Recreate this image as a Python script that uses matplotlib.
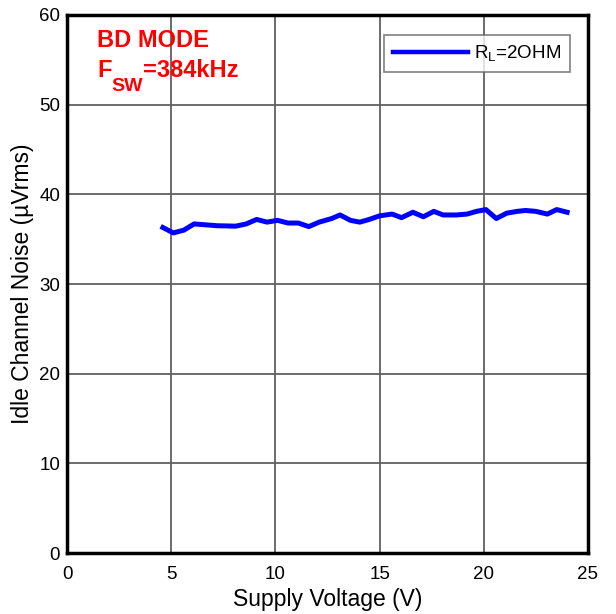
import matplotlib
matplotlib.use("Agg")
import matplotlib.pyplot as plt

plt.rcParams['font.family'] = ['Liberation Sans', 'DejaVu Sans']

# supply voltage (V) and idle channel noise (uVrms)
voltage = [4.6, 5.1, 5.6, 6.1, 7.2, 8.1, 8.6, 9.1, 9.6, 10.1, 10.6, 11.1,
           11.6, 12.1, 12.7, 13.1, 13.6, 14.05, 14.5, 15.0, 15.6, 16.05,
           16.6, 17.1, 17.6, 18.05, 18.7, 19.2, 19.65, 20.1, 20.6, 21.1,
           21.6, 22.0, 22.5, 23.05, 23.5, 24.0]
noise = [36.3, 35.7, 36.0, 36.7, 36.5, 36.45, 36.7, 37.2, 36.9, 37.1,
         36.8, 36.8, 36.4, 36.9, 37.3, 37.7, 37.1, 36.9, 37.2, 37.6, 37.8,
         37.4, 38.0, 37.5, 38.1, 37.7, 37.7, 37.8, 38.1, 38.3, 37.3, 37.9,
         38.1, 38.2, 38.1, 37.8, 38.3, 38.0]

xticks = [0, 5, 10, 15, 20, 25]
yticks = [0, 10, 20, 30, 40, 50, 60]

fig = plt.figure(figsize=(6.16, 6.14), dpi=100)
ax = fig.add_axes([0.1088, 0.0993, 0.8457, 0.8763])

ax.plot(voltage, noise, color='#0000ff', lw=3.6, label=r'R$_\mathregular{L}$=2OHM',
        solid_joinstyle='round')

ax.set_xlim(0, 25)
ax.set_ylim(0, 60)
ax.set_xticks(xticks)
ax.set_yticks(yticks)
ax.grid(True, color='#606060', lw=1.3)
ax.set_axisbelow(True)
for s in ax.spines.values():
    s.set_linewidth(2.5)
    s.set_color('black')
ax.tick_params(length=0, labelsize=13.5)
ax.tick_params(axis='x', pad=9)
ax.tick_params(axis='y', pad=5)

ax.set_xlabel('Supply Voltage (V)', fontsize=16.5, labelpad=4)
ax.set_ylabel('Idle Channel Noise (µVrms)', fontsize=16.5, labelpad=4)

# red annotation, subscript built from separate pieces so it can be larger
red = dict(color='red', fontweight='bold')
ax.text(0.0576, 0.941, 'BD MODE', transform=ax.transAxes, fontsize=17,
        va='baseline', **red)
f = ax.text(0.0576, 0.884, 'F', transform=ax.transAxes, fontsize=17,
            va='baseline', **red)
sw = ax.annotate('SW', xy=(1, 0), xycoords=f, xytext=(0, -9),
                 textcoords='offset points', fontsize=14, va='bottom',
                 ha='left', **red)
ax.annotate('=384kHz', xy=(1, 0), xycoords=(sw, f), fontsize=17,
            va='bottom', ha='left', **red)

leg = ax.legend(loc='upper right', bbox_to_anchor=(0.9655, 0.9628),
                fontsize=13.5, frameon=True, fancybox=False,
                edgecolor='#606060', handlelength=4.0, borderaxespad=0,
                borderpad=0.45, handletextpad=0.35)
leg.get_frame().set_linewidth(1.2)
leg.get_lines()[0].set_linewidth(3.2)

fig.savefig('out.png', dpi=100)
